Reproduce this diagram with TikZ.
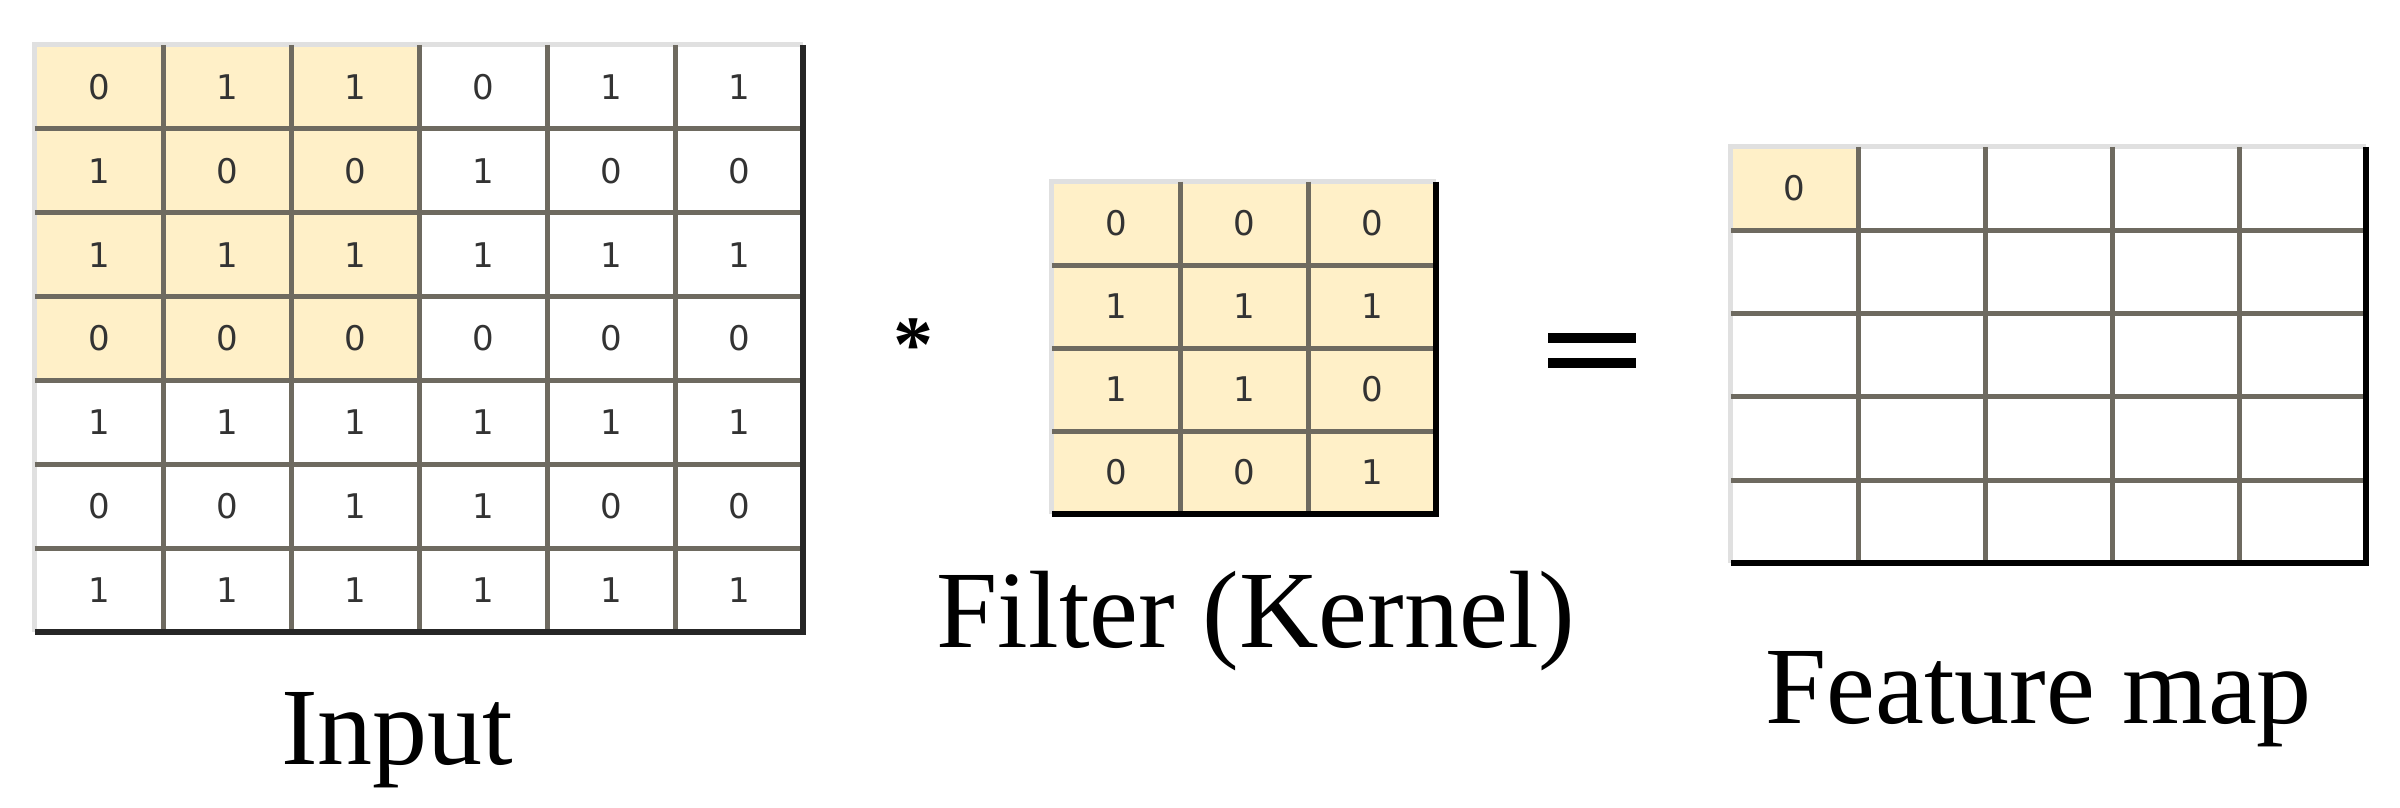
\documentclass[tikz,border=0pt]{standalone}
\usepackage{fontspec}
\setmainfont{Liberation Serif}
\newfontfamily\digitfont{DejaVu Sans}
\definecolor{cellfill}{HTML}{FFF0C8}
\definecolor{gridline}{HTML}{6E6A60}
\begin{document}
\begin{tikzpicture}[x=1pt,y=-1pt,
  cellbox/.style={draw=none,minimum width=128pt,minimum height=83.5pt,inner sep=0pt,font=\digitfont\fontsize{34}{34}\selectfont,text=black!80},
  label/.style={font=\fontsize{110}{110}\selectfont,anchor=base}]
\useasboundingbox (0,0) rectangle (2400,808);
% ---------- Input ----------
\foreach \r/\row in {1/{0,1,1,0,1,1},2/{1,0,0,1,0,0},3/{1,1,1,1,1,1},4/{0,0,0,0,0,0},5/{1,1,1,1,1,1},6/{0,0,1,1,0,0},7/{1,1,1,1,1,1}}{
  \foreach \v [count=\c] in \row {
    \pgfmathsetmacro{\shade}{(\r<5 && \c<4) ? 1 : 0}
    \ifdim\shade pt>0.5pt
      \node[cellbox,fill=cellfill] (in-\r-\c) at ({35+128*(\c-0.5)},{45+83.85*(\r-0.5)}) {\v};
    \else
      \node[cellbox] (in-\r-\c) at ({35+128*(\c-0.5)},{45+83.85*(\r-0.5)}) {\v};
    \fi
  }
}
\draw[black!12,line width=5pt] (in-7-1.south west) -- (in-1-1.north west) -- (in-1-6.north east);
\foreach \c in {1,...,5} \draw[gridline,line width=5pt] (in-1-\c.north east) -- (in-7-\c.south east);
\foreach \r in {1,...,6} \draw[gridline,line width=5pt] (in-\r-1.south west) -- (in-\r-6.south east);
\draw[black!85,line width=6pt] (in-1-6.north east) -- (in-7-6.south east) -- (in-7-1.south west);
\node[label] (inlab) at (in-7-3.south east) [yshift=-133pt,xshift=-22pt] {Input};
% ---------- Filter ----------
\foreach \r/\row in {1/{0,0,0},2/{1,1,1},3/{1,1,0},4/{0,0,1}}{
  \foreach \v [count=\c] in \row {
    \node[cellbox,fill=cellfill] (f-\r-\c) at ({1052+128*(\c-0.5)},{182+83*(\r-0.5)}) {\v};
  }
}
\draw[black!12,line width=5pt] (f-4-1.south west) -- (f-1-1.north west) -- (f-1-3.north east);
\foreach \c in {1,2} \draw[gridline,line width=5pt] (f-1-\c.north east) -- (f-4-\c.south east);
\foreach \r in {1,2,3} \draw[gridline,line width=5pt] (f-\r-1.south west) -- (f-\r-3.south east);
\draw[black,line width=6pt] (f-1-3.north east) -- (f-4-3.south east) -- (f-4-1.south west);
\node[label] (flab) at (f-4-2.south) [yshift=-133pt,xshift=12pt] {Filter (Kernel)};
% ---------- Feature map ----------
\foreach \r in {1,...,5}{
  \foreach \c in {1,...,5}{
    \node[cellbox,minimum width=127pt,minimum height=83.2pt] (m-\r-\c) at ({1731+127*(\c-0.5)},{147+83.2*(\r-0.5)}) {};
  }
}
\node[cellbox,minimum width=127pt,minimum height=83.2pt,fill=cellfill] at (m-1-1) {0};
\draw[black!12,line width=5pt] (m-5-1.south west) -- (m-1-1.north west) -- (m-1-5.north east);
\foreach \c in {1,...,4} \draw[gridline,line width=5pt] (m-1-\c.north east) -- (m-5-\c.south east);
\foreach \r in {1,...,4} \draw[gridline,line width=5pt] (m-\r-1.south west) -- (m-\r-5.south east);
\draw[black,line width=6pt] (m-1-5.north east) -- (m-5-5.south east) -- (m-5-1.south west);
\node[label] (mlab) at (m-5-3.south) [yshift=-160pt,xshift=-10pt] {Feature map};
% ---------- operators ----------
\node[font=\bfseries\fontsize{80}{80}\selectfont,inner sep=0pt] (star) at (913,345) {*};
\coordinate (eqA) at (1548,338);
\coordinate (eqB) at (1636,338);
\coordinate (eqC) at (1548,363);
\coordinate (eqD) at (1636,363);
\draw[black,line width=10pt] (eqA) -- (eqB) (eqC) -- (eqD);
\end{tikzpicture}
\end{document}
